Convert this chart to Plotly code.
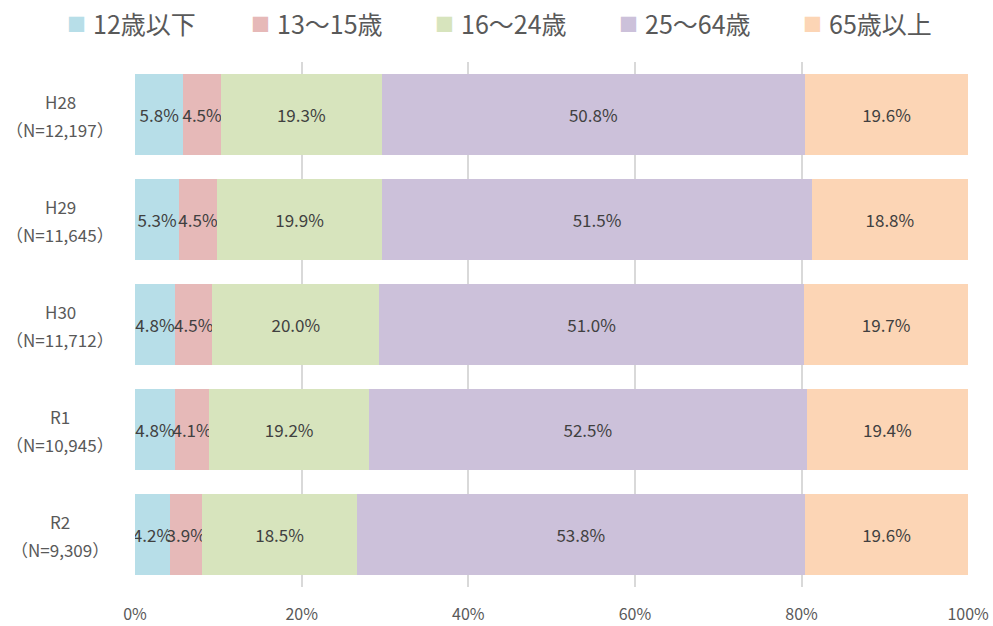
import plotly.graph_objects as go

cat_keys = ["H28", "H29", "H30", "R1", "R2"]
cat_counts = ["（N=12,197）", "（N=11,645）", "（N=11,712）", "（N=10,945）", "（N=9,309）"]
series_names = ["12歳以下", "13～15歳", "16～24歳", "25～64歳", "65歳以上"]
age_12_under = [5.8, 5.3, 4.8, 4.8, 4.2]
age_13_15 = [4.5, 4.5, 4.5, 4.1, 3.9]
age_16_24 = [19.3, 19.9, 20.0, 19.2, 18.5]
age_25_64 = [50.8, 51.5, 51.0, 52.5, 53.8]
age_65_over = [19.6, 18.8, 19.7, 19.4, 19.6]
colors = ["#B7DEE8", "#E6B9B8", "#D7E4BD", "#CCC1DA", "#FCD5B5"]

series_values = [age_12_under, age_13_15, age_16_24, age_25_64, age_65_over]

font_family = "Noto Sans CJK JP, Noto Sans, sans-serif"

W, H = 993, 626
ML, MR, MT, MB = 135, 24, 62, 39
PW, PH = W - ML - MR, H - MT - MB

fig = go.Figure()
for name, vals, col in zip(series_names, series_values, colors):
    fig.add_trace(go.Bar(
        y=cat_keys,
        x=[v / 100 for v in vals],
        name=name,
        orientation="h",
        marker=dict(color=col, line=dict(width=0)),
        text=[f"{v:.1f}%" for v in vals],
        textposition="inside",
        insidetextanchor="middle",
        textangle=0,
        textfont=dict(size=17, color="#404040", family=font_family),
        hoverinfo="skip",
        showlegend=False,
    ))

# category labels (two lines, centered) left of the plot
label_x = -75 / PW
for key, cnt in zip(cat_keys, cat_counts):
    fig.add_annotation(x=label_x, xref="paper", y=key, yref="y", text=key,
                       showarrow=False, xanchor="center", yanchor="middle",
                       yshift=13, font=dict(size=17, color="#595959"))
    fig.add_annotation(x=label_x, xref="paper", y=key, yref="y", text=cnt,
                       showarrow=False, xanchor="center", yanchor="middle",
                       yshift=-15, font=dict(size=17, color="#595959"))

# legend row at the top (swatch + label per series)
legend_y = 1 + (MT - 23) / PH
item_step = 184
first_swatch = 76
for i, (name, col) in enumerate(zip(series_names, colors)):
    sx = first_swatch + i * item_step
    fig.add_annotation(x=(sx - ML) / PW, xref="paper", y=legend_y, yref="paper",
                       text="■", showarrow=False, xanchor="center", yanchor="middle",
                       font=dict(size=19, color=col))
    fig.add_annotation(x=(sx + 15 - ML) / PW, xref="paper", y=legend_y, yref="paper",
                       text=name, showarrow=False, xanchor="left", yanchor="middle",
                       font=dict(size=25, color="#595959"))

fig.update_layout(
    barmode="stack",
    bargap=0.22,
    width=W, height=H,
    margin=dict(l=ML, r=MR, t=MT, b=MB, autoexpand=False),
    paper_bgcolor="white",
    plot_bgcolor="white",
    font=dict(family=font_family, color="#595959"),
    uniformtext=dict(minsize=17, mode="show"),
    showlegend=False,
    xaxis=dict(
        range=[0, 1.001],
        tickformat=".0%",
        tickvals=[0, 0.2, 0.4, 0.6, 0.8, 1.0],
        showgrid=True,
        gridcolor="#D9D9D9",
        gridwidth=1.5,
        zeroline=False,
        showline=False,
        automargin=False,
        tickfont=dict(size=16, color="#595959"),
        ticks="",
        ticklabelstandoff=16,
    ),
    yaxis=dict(
        autorange="reversed",
        showgrid=False,
        showticklabels=False,
        automargin=False,
        ticks="",
    ),
)

fig.write_html("out.html", config={"displayModeBar": False},
               post_script="document.body.style.margin='0';document.body.style.overflow='hidden';")
